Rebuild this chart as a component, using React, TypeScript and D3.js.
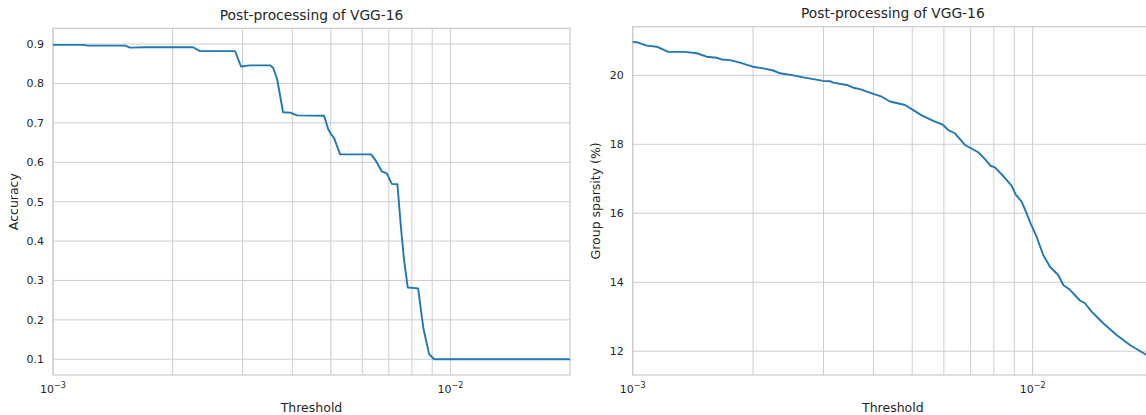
import React from 'react';
import * as d3 from 'd3';

// accuracy after post-processing
const accThreshold = [
  1.0e-3, 1.19e-3, 1.225e-3, 1.518e-3, 1.563e-3, 1.704e-3, 2.251e-3, 2.344e-3,
  2.872e-3, 2.973e-3, 3.131e-3, 3.517e-3, 3.579e-3, 3.663e-3, 3.793e-3, 3.95e-3,
  4.113e-3, 4.81e-3, 4.931e-3, 5.0e-3, 5.096e-3, 5.277e-3, 6.316e-3, 6.49e-3,
  6.72e-3, 6.918e-3, 7.122e-3, 7.357e-3, 7.516e-3, 7.649e-3, 7.814e-3, 8.294e-3,
  8.554e-3, 8.841e-3, 9.1e-3, 2.0e-2,
];
const accValues = [
  0.898, 0.898, 0.896, 0.896, 0.891, 0.892, 0.892, 0.882,
  0.882, 0.843, 0.846, 0.846, 0.84, 0.812, 0.727, 0.726,
  0.719, 0.718, 0.683, 0.672, 0.662, 0.62, 0.62, 0.604,
  0.577, 0.572, 0.545, 0.544, 0.43, 0.35, 0.282, 0.28,
  0.178, 0.113, 0.1, 0.1,
];

// group sparsity (%), right panel
const sparThreshold = [
  1.0e-3, 1.023e-3, 1.084e-3, 1.148e-3, 1.227e-3, 1.351e-3, 1.445e-3, 1.531e-3,
  1.622e-3, 1.669e-3, 1.751e-3, 1.855e-3, 1.995e-3, 2.121e-3, 2.246e-3, 2.335e-3,
  2.521e-3, 2.67e-3, 2.996e-3, 3.113e-3, 3.173e-3, 3.428e-3, 3.561e-3, 3.701e-3,
  3.997e-3, 4.195e-3, 4.398e-3, 4.796e-3, 5.03e-3, 5.279e-3, 5.643e-3, 5.977e-3,
  6.152e-3, 6.394e-3, 6.773e-3, 6.971e-3, 7.311e-3, 7.6e-3, 7.866e-3, 8.049e-3,
  8.442e-3, 8.861e-3, 9.084e-3, 9.387e-3, 9.661e-3, 9.847e-3, 1.023e-2, 1.063e-2,
  1.105e-2, 1.159e-2, 1.193e-2, 1.24e-2, 1.313e-2, 1.352e-2, 1.405e-2, 1.502e-2,
  1.622e-2, 1.751e-2, 1.909e-2, 2.0e-2,
];
const sparValues = [
  20.97, 20.96, 20.86, 20.83, 20.68, 20.68, 20.64, 20.54,
  20.51, 20.46, 20.44, 20.37, 20.25, 20.2, 20.14, 20.06,
  20.0, 19.94, 19.84, 19.83, 19.79, 19.72, 19.64, 19.6,
  19.46, 19.38, 19.24, 19.14, 18.99, 18.84, 18.68, 18.56,
  18.41, 18.32, 17.98, 17.9, 17.77, 17.57, 17.37, 17.33,
  17.08, 16.8, 16.53, 16.34, 16.0, 15.75, 15.32, 14.79,
  14.45, 14.21, 13.92, 13.78, 13.47, 13.39, 13.15, 12.81,
  12.47, 12.18, 11.92, 11.78,
];

const accTicks = [0.1, 0.2, 0.3, 0.4, 0.5, 0.6, 0.7, 0.8, 0.9];
const sparTicks = [12, 14, 16, 18, 20];
const xMajor = [1e-3, 1e-2];
const xMinor = [2e-3, 3e-3, 4e-3, 5e-3, 6e-3, 7e-3, 8e-3, 9e-3];
const xDomain = [1e-3, 2e-2];

const FONT = 'DejaVu Sans, sans-serif';
const TXT = '#262626';
const GRID = '#cccccc';
const BLUE = '#1f77b4';

function Panel({ left, right, top, bottom, xs, ys, yDomain, yTicks, yFmt, ylabel, ylabelX }) {
  const x = d3.scaleLog().domain(xDomain).range([left, right]);
  const y = d3.scaleLinear().domain(yDomain).range([bottom, top]);
  const line = d3.line<number>()
    .x((d, i) => x(xs[i]))
    .y((d) => y(d));
  const cx = (left + right) / 2;
  const cy = (top + bottom) / 2;
  return (
    <g fontFamily={FONT} fill={TXT}>
      {yTicks.map((t) => (
        <g key={'y' + t}>
          <line x1={left} x2={right} y1={y(t)} y2={y(t)} stroke={GRID} strokeWidth={1} />
          <text x={left - 9} y={y(t)} dy="0.35em" fontSize={11} textAnchor="end">{yFmt(t)}</text>
        </g>
      ))}
      {xMinor.concat(xMajor).map((t) => (
        <line key={'x' + t} x1={x(t)} x2={x(t)} y1={top} y2={bottom} stroke={GRID} strokeWidth={1} />
      ))}
      {xMajor.map((t) => (
        <text key={'xl' + t} x={x(t)} y={bottom + 17.5} fontSize={11} textAnchor="middle">
          10<tspan fontSize={8} dy={-4.5}>{'\u2212' + Math.round(-Math.log10(t))}</tspan>
        </text>
      ))}
      <rect x={left} y={top} width={right - left} height={bottom - top} fill="none" stroke={GRID} strokeWidth={1.25} />
      <path d={line(ys) || ''} fill="none" stroke={BLUE} strokeWidth={1.9} strokeLinejoin="round" />
      <text x={cx} y={top - 8.7} fontSize={13.8} textAnchor="middle">Post-processing of VGG-16</text>
      <text x={cx} y={412} fontSize={12.5} textAnchor="middle">Threshold</text>
      <text transform={`translate(${ylabelX},${cy}) rotate(-90)`} fontSize={12.5} textAnchor="middle">{ylabel}</text>
    </g>
  );
}

export default function App() {
  return (
    <svg width={1146} height={415} style={{ position: 'absolute', left: 0, top: 0, background: '#fff' }}>
      <Panel left={53} right={570} top={28.3} bottom={375} xs={accThreshold} ys={accValues}
        yDomain={[0.06, 0.94]} yTicks={accTicks} yFmt={(t) => t.toFixed(1)} ylabel="Accuracy" ylabelX={18} />
      <Panel left={632.7} right={1153} top={26.7} bottom={375} xs={sparThreshold} ys={sparValues}
        yDomain={[11.31, 21.41]} yTicks={sparTicks} yFmt={(t) => String(t)} ylabel="Group sparsity (%)" ylabelX={600} />
    </svg>
  );
}
